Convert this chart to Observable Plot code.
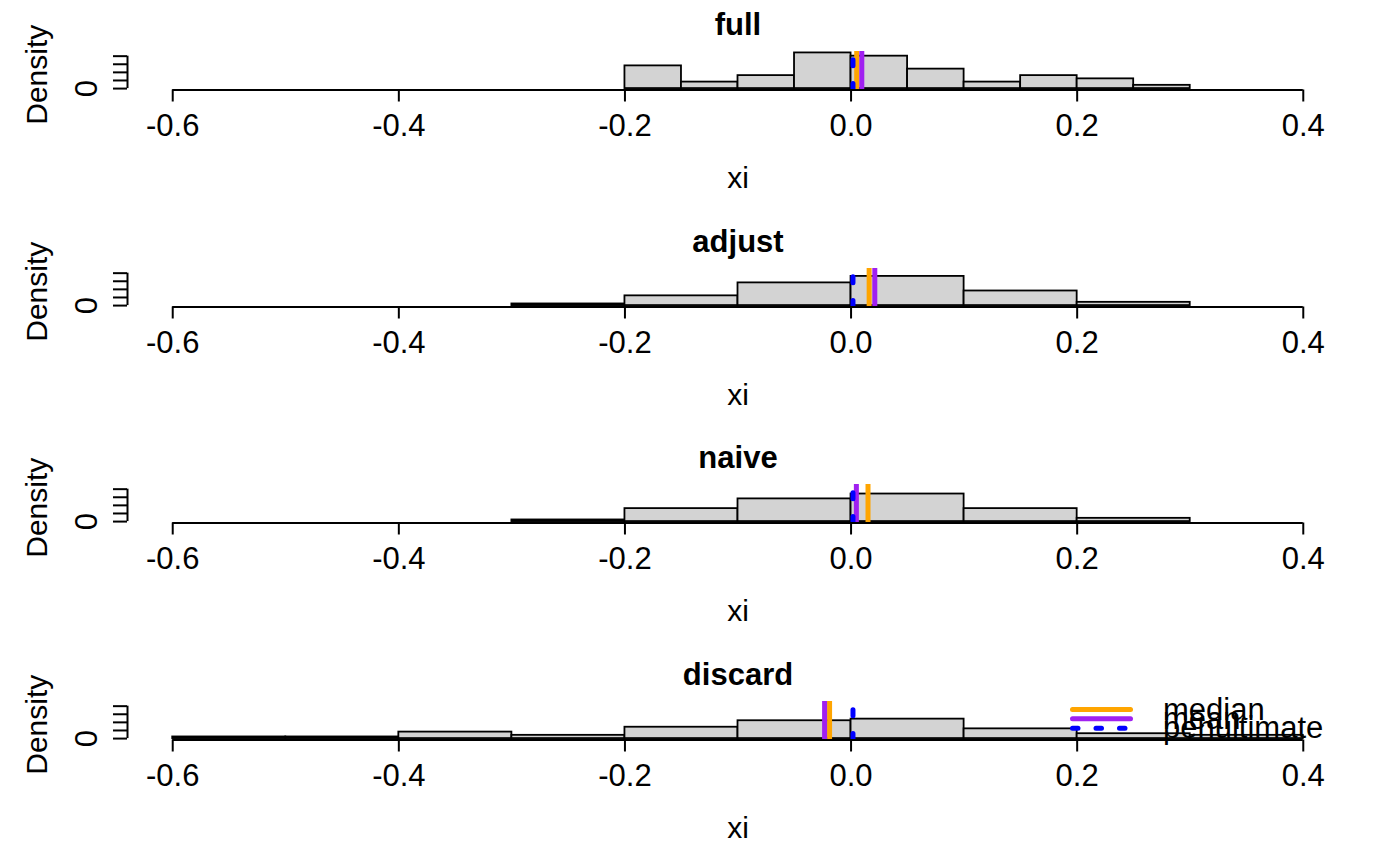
<!DOCTYPE html>
<html>
<head>
<meta charset="utf-8">
<script src="https://cdn.jsdelivr.net/npm/d3@7"></script>
<script src="https://cdn.jsdelivr.net/npm/@observablehq/plot@0.6"></script>
<style>
  body { margin: 0; background: #fff; }
  #chart { position: relative; width: 1400px; height: 866px; overflow: hidden; }
  .panel { position: relative; width: 1400px; height: 216.5px; }
  .panel svg { display: block; }
  .legend { position: absolute; left: 0; top: 0; pointer-events: none; overflow: visible; }
</style>
</head>
<body>
<div id="chart"></div>
<script>
// ---- data ----
const panelTitles = ["full", "adjust", "naive", "discard"];

const fullBreaks    = [-0.2, -0.15, -0.1, -0.05, 0, 0.05, 0.1, 0.15, 0.2, 0.25, 0.3];
const fullDensity   = [2.8, 0.8, 1.6, 4.4, 4.0, 2.4, 0.8, 1.6, 1.2, 0.4];

const adjustBreaks  = [-0.3, -0.2, -0.1, 0, 0.1, 0.2, 0.3];
const adjustDensity = [0.2, 1.2, 2.8, 3.6, 1.8, 0.4];

const naiveBreaks   = [-0.3, -0.2, -0.1, 0, 0.1, 0.2, 0.3];
const naiveDensity  = [0.2, 1.6, 2.8, 3.4, 1.6, 0.4];

const discardBreaks  = [-0.6, -0.5, -0.4, -0.3, -0.2, -0.1, 0, 0.1, 0.2, 0.3, 0.4];
const discardDensity = [0.2, 0.2, 0.8, 0.4, 1.4, 2.2, 2.4, 1.2, 0.6, 0.4];

const medianValues      = [0.005, 0.016, 0.015, -0.019];
const meanValues        = [0.0095, 0.021, 0.0047, -0.0234];
const penultimateValues = [0.0017, 0.0017, 0.0017, 0.0017];

const xTicks = [-0.6, -0.4, -0.2, 0, 0.2, 0.4];
const yTicks = [0, 1, 2, 3, 4];
const yLabelTicks = [0];
const xlim = [-0.6, 0.4];
const ylim = [0, 4.4];
const xLabel = "xi";
const yLabel = "Density";

const legendLabels = ["median", "mean", "penultimate"];
const legendColors = ["#FFA500", "#A020F0", "#0000FF"];
const legendDashes = [null, null, "5.5,18"];

// ---- layout ----
const binBreaks  = [fullBreaks, adjustBreaks, naiveBreaks, discardBreaks];
const binDensity = [fullDensity, adjustDensity, naiveDensity, discardDensity];
const expand = lim => { const d = (lim[1] - lim[0]) * 0.04; return [lim[0] - d, lim[1] + d]; };
const xDom = expand(xlim);
const yDom = expand(ylim);
const font = "'Liberation Sans', Arial, Helvetica, sans-serif";
const W = 1400, H = 216.5;

const chart = document.getElementById("chart");

panelTitles.forEach((title, i) => {
  const bins = binDensity[i].map((d, j) => ({x1: binBreaks[i][j], x2: binBreaks[i][j + 1], density: d}));
  const div = document.createElement("div");
  div.className = "panel";
  const plot = Plot.plot({
    width: W,
    height: H,
    marginLeft: 127,
    marginRight: 52,
    marginTop: 51,
    marginBottom: 127,
    x: {domain: xDom},
    y: {domain: yDom},
    style: {fontFamily: font, color: "black", background: "white", overflow: "visible"},
    marks: [
      Plot.rect(bins, {x1: "x1", x2: "x2", y1: 0, y2: "density", fill: "#D3D3D3", stroke: "black", strokeWidth: 1.8}),
      Plot.ruleX([medianValues[i]], {stroke: legendColors[0], strokeWidth: 5, clip: true}),
      Plot.ruleX([meanValues[i]], {stroke: legendColors[1], strokeWidth: 5, clip: true}),
      Plot.ruleX([penultimateValues[i]], {y1: yDom[0], y2: yDom[1], stroke: legendColors[2], strokeWidth: 5,
        strokeDasharray: "6,17.7", strokeLinecap: "round", clip: true}),
      Plot.ruleY([yDom[0]], {x1: xTicks[0], x2: xTicks[xTicks.length - 1], stroke: "black", strokeWidth: 2}),
      Plot.axisX({ticks: xTicks, tickSize: 12, tickPadding: 12, tickFormat: d => d.toFixed(1),
        fontSize: 31, label: null, strokeWidth: 2}),
      Plot.ruleX([xDom[0]], {y1: yTicks[0], y2: yTicks[yTicks.length - 1], stroke: "black", strokeWidth: 2}),
      Plot.axisY({ticks: yTicks, tickSize: 14, tickFormat: () => "", label: null, strokeWidth: 2}),
      Plot.text(yLabelTicks, {y: d => d, frameAnchor: "left", dx: -40, rotate: -90, text: d => String(d),
        textAnchor: "middle", lineAnchor: "middle", fontSize: 31}),
      Plot.text([yLabel], {frameAnchor: "left", dx: -90, dy: 4, rotate: -90, textAnchor: "middle", lineAnchor: "middle", fontSize: 30}),
      Plot.text([xLabel], {frameAnchor: "bottom", dy: 88.5, textAnchor: "middle", lineAnchor: "middle", fontSize: 30}),
      Plot.text([title], {frameAnchor: "top", dy: -26, textAnchor: "middle", lineAnchor: "middle", fontSize: 31, fontWeight: "bold"})
    ]
  });
  div.appendChild(plot);

  if (i === panelTitles.length - 1) {
    // legend overlay (R legend, bty = "n")
    const L = {keyX1: 1072.5, keyX2: 1130.5, textX: 1163, top: 59.5, gap: 9.35};
    const svg = d3.create("svg").attr("class", "legend").attr("width", W).attr("height", H)
      .style("font-family", font);
    legendLabels.forEach((lab, k) => {
      const y = L.top + k * L.gap;
      const line = svg.append("line")
        .attr("x1", L.keyX1).attr("x2", L.keyX2).attr("y1", y).attr("y2", y)
        .attr("stroke", legendColors[k]).attr("stroke-width", 5).attr("stroke-linecap", "round");
      if (legendDashes[k]) line.attr("stroke-dasharray", legendDashes[k]);
    });
    legendLabels.forEach((lab, k) => {
      const y = L.top + k * L.gap;
      svg.append("text").attr("x", L.textX).attr("y", y + 2).attr("dominant-baseline", "middle")
        .attr("font-size", 31).attr("fill", "black").text(lab);
    });
    div.appendChild(svg.node());
  }
  chart.appendChild(div);
});
</script>
</body>
</html>
